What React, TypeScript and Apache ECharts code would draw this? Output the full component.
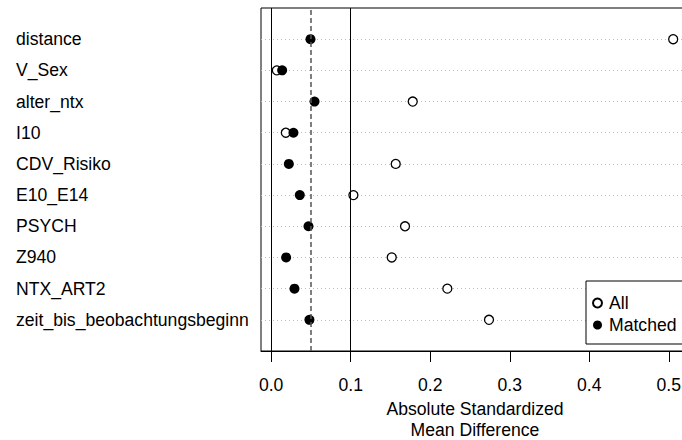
import React, { useEffect, useRef } from "react";
import * as echarts from "echarts";

const variables = [
  "distance",
  "V_Sex",
  "alter_ntx",
  "I10",
  "CDV_Risiko",
  "E10_E14",
  "PSYCH",
  "Z940",
  "NTX_ART2",
  "zeit_bis_beobachtungsbeginn",
];
const allValues = [0.5055, 0.0071, 0.178, 0.0184, 0.1566, 0.1034, 0.1683, 0.1516, 0.2215, 0.2739];
const matchedValues = [0.0494, 0.0138, 0.0545, 0.028, 0.0222, 0.036, 0.0469, 0.0188, 0.0293, 0.0481];
const xTicks = [0, 0.1, 0.2, 0.3, 0.4, 0.5];
const xMin = -0.0128;
const xMax = 0.5254;

const FONT = "'Liberation Sans', Arial, sans-serif";
const FS = 17.6;

export default function App() {
  const ref = useRef<HTMLDivElement>(null);
  useEffect(() => {
    document.body.style.margin = "0";
    const chart = echarts.init(ref.current!, null, { renderer: "svg" });
    const n = variables.length;
    const rowOf = (i: number) => n - i;
    const allData = allValues.map((v, i) => [v, rowOf(i)]);
    const matchedData = matchedValues.map((v, i) => [v, rowOf(i)]);
    const rowValues = variables.map((_, i) => rowOf(i));

    chart.setOption({
      animation: false,
      textStyle: { fontFamily: FONT },
      grid: {
        left: 261,
        top: 8,
        right: 682 - 689,
        bottom: 89,
        show: true,
        borderColor: "#000",
        borderWidth: 1,
        backgroundColor: "transparent",
        outerBoundsMode: "none",
        containLabel: false,
      },
      legend: {
        orient: "vertical",
        left: 586,
        top: 281,
        itemWidth: 9,
        itemHeight: 9,
        itemGap: 4,
        padding: [13, 30, 10, 6],
        borderColor: "#000",
        borderWidth: 1,
        backgroundColor: "#fff",
        textStyle: { fontSize: FS, color: "#000", fontFamily: FONT, padding: [0, 0, 0, 2] },
        data: [
          { name: "All", icon: "circle" },
          { name: "Matched", icon: "circle" },
        ],
      },
      xAxis: {
        type: "value",
        min: xMin,
        max: xMax,
        name: "Absolute Standardized\nMean Difference",
        nameLocation: "middle",
        nameGap: 45,
        nameTextStyle: { fontSize: FS, color: "#000", lineHeight: 21, fontFamily: FONT },
        axisLine: { show: true, onZero: false, lineStyle: { color: "#000", width: 1 } },
        axisTick: {
          show: true,
          length: 11,
          customValues: xTicks,
          lineStyle: { color: "#000", width: 1 },
        },
        axisLabel: {
          customValues: xTicks,
          fontSize: FS,
          color: "#000",
          margin: 25,
          fontFamily: FONT,
          formatter: (v: number) => v.toFixed(1),
        },
        splitLine: { show: false },
      },
      yAxis: {
        type: "value",
        min: 0,
        max: n + 1,
        interval: 1,
        axisLine: { show: false },
        axisTick: { show: false },
        axisLabel: {
          customValues: rowValues,
          align: "left",
          margin: 245,
          fontSize: FS,
          color: "#000",
          fontFamily: FONT,
          formatter: (v: number) => variables[n - Math.round(v)] ?? "",
        },
        splitLine: {
          show: true,
          showMinLine: false,
          showMaxLine: false,
          lineStyle: { color: "#bdbdbd", type: [1, 3], width: 1 },
        },
      },
      series: [
        {
          name: "All",
          type: "scatter",
          data: allData,
          symbol: "circle",
          symbolSize: 9,
          itemStyle: { color: "#fff", borderColor: "#000", borderWidth: 1.3, opacity: 1 },
          z: 3,
          markLine: {
            silent: true,
            symbol: "none",
            label: { show: false },
            data: [
              { xAxis: 0, lineStyle: { color: "#000", width: 1, type: "solid" } },
              { xAxis: 0.1, lineStyle: { color: "#000", width: 1, type: "solid" } },
              { xAxis: 0.05, lineStyle: { color: "#555", width: 1.5, type: [5, 3] } },
            ],
          },
        },
        {
          name: "Matched",
          type: "scatter",
          data: matchedData,
          symbol: "circle",
          symbolSize: 10,
          itemStyle: { color: "#000", borderColor: "#000", borderWidth: 0, opacity: 1 },
          z: 4,
        },
      ],
    });
    return () => chart.dispose();
  }, []);
  return <div ref={ref} style={{ width: 682, height: 440 }} />;
}
